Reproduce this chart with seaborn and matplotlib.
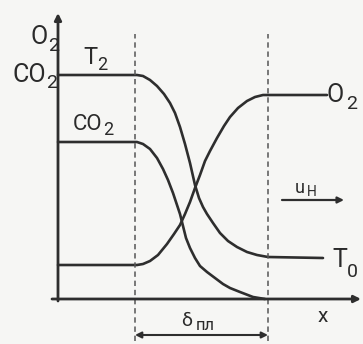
import matplotlib
matplotlib.use("Agg")
import matplotlib.pyplot as plt
import seaborn as sns
import pandas as pd

sns.set_theme(style="white")
plt.rcParams["font.family"] = ["Roboto", "DejaVu Sans"]

# Profiles across the flame front: distance x vs. level
x_T = [0, 79, 85, 92, 99, 106, 112, 117, 122, 127, 132, 137, 141, 145,
       149, 155, 162, 170, 179, 189, 199, 210, 265]
y_T = [224, 224, 223, 219, 213, 205, 196, 186, 172, 155, 136, 114, 101, 92,
       85, 76, 66, 58, 52, 47, 44, 42, 41]

x_CO2 = [0, 79, 85, 92, 99, 105, 110, 115, 119, 122, 125, 128, 132, 137,
         142, 149, 157, 165, 172, 182, 195, 207]
y_CO2 = [157, 157, 155, 150, 141, 130, 119, 106, 94, 85, 73, 61, 51, 41,
         33, 27, 21, 15, 11, 7, 2, 0]

x_O2 = [0, 79, 85, 92, 100, 109, 116, 122, 127, 132, 137, 142, 147, 152,
        159, 166, 172, 180, 189, 197, 205, 269]
y_O2 = [34, 34, 35, 38, 44, 55, 65, 74, 85, 97, 111, 124, 138, 148,
        161, 173, 182, 191, 198, 202, 204, 204]

# Edges of the flame zone
zone_edges = [77, 210]

line_color = "#2e2e2e"
bg = "#f6f6f4"

fig = plt.figure(figsize=(3.63, 3.44), dpi=100, facecolor=bg)
ax = fig.add_axes([0, 0, 1, 1], facecolor=bg)
ax.set_xlim(-58, 305)
ax.set_ylim(-45, 299)
ax.axis("off")

for xs, ys in [(x_T, y_T), (x_CO2, y_CO2), (x_O2, y_O2)]:
    df = pd.DataFrame({"x": xs, "y": ys})
    sns.lineplot(data=df, x="x", y="y", sort=False, estimator=None,
                 color=line_color, lw=1.9, ax=ax)

# coordinate axes with arrows
arrow = dict(arrowstyle="-|>", color=line_color, lw=2.0,
             mutation_scale=10, shrinkA=0, shrinkB=0)
ax.annotate("", xy=(0, 286), xytext=(0, -2), arrowprops=arrow)
ax.annotate("", xy=(303, 0), xytext=(-6, 0), arrowprops=arrow)

# dashed boundaries of the zone
for xe in zone_edges:
    ax.plot([xe, xe], [-42, 265], color="#555555", lw=1.1,
            ls=(0, (3.5, 2.5)))

# zone width dimension
ax.annotate("", xy=(zone_edges[0], -36), xytext=(zone_edges[1], -36),
            arrowprops=dict(arrowstyle="<|-|>", color=line_color, lw=1.5,
                            mutation_scale=9, shrinkA=0, shrinkB=0))

# flow direction arrow
ax.annotate("", xy=(286, 99), xytext=(224, 99),
            arrowprops=dict(arrowstyle="-|>", color=line_color, lw=1.6,
                            mutation_scale=9, shrinkA=0, shrinkB=0))

tc = "#2a2a2a"


def label(x, y, base, sub, sx, sy, size=18, subsize=14):
    ax.text(x, y, base, fontsize=size, color=tc, ha="left", va="center")
    ax.text(sx, sy, sub, fontsize=subsize, color=tc, ha="left", va="center")


label(-28, 262, "O", "2", -10, 253)
label(-46, 224, "CO", "2", -12, 216)
label(25, 241, "T", "2", 39, 234, size=17, subsize=13)
label(15, 175, "CO", "2", 45, 169, size=16, subsize=13)
label(269, 204, "O", "2", 288, 195)
label(237, 111, "u", "H", 249, 107, size=13, subsize=10)
label(274, 39, "T", "0", 289, 27, size=18, subsize=14)
ax.text(260, -18, "x", fontsize=15, color=tc, ha="left", va="center")
label(123, -22, "δ", "пл", 138, -27, size=14, subsize=12)

fig.savefig("out.png", dpi=100, facecolor=bg)
